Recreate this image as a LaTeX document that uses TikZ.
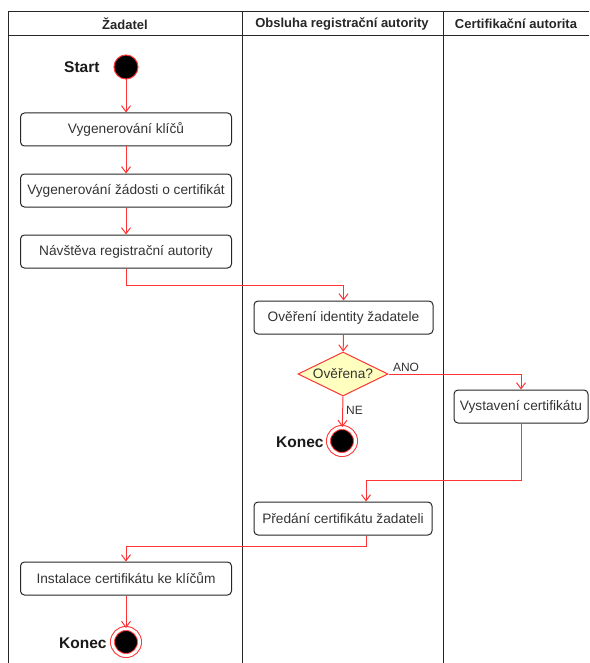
\documentclass[tikz,border=0pt]{standalone}
\usepackage{fontspec}
\setmainfont{Liberation Sans}
\usetikzlibrary{arrows.meta, shapes.geometric}

\definecolor{flow}{HTML}{FF3333}
\definecolor{cond}{HTML}{FFFFC0}
\definecolor{txt}{HTML}{333333}

\tikzset{
	lane/.style={font=\bfseries\fontsize{13}{15}\selectfont, text=black!85},
	action/.style={draw=black!85, rounded corners=4pt, minimum height=33pt, inner sep=0pt, text=txt, font=\fontsize{13.7}{15}\selectfont},
	decision/.style={diamond, draw=flow, fill=cond, aspect=2, minimum width=90pt, minimum height=44pt, inner sep=0pt, text=txt, font=\fontsize{13.7}{15}\selectfont},
	start/.style={circle, draw=flow, fill=black, minimum size=24pt, inner sep=0pt},
	stop/.style={circle, draw=flow, fill=black, double=white, double distance=3pt, minimum size=27pt, inner sep=0pt},
	tag/.style={font=\bfseries\fontsize{15.5}{17}\selectfont, text=black!90, inner sep=0pt},
	guard/.style={font=\fontsize{12}{14}\selectfont, text=txt, inner sep=1pt}
}

\begin{document}
\begin{tikzpicture}[x=1pt, y=-1pt, line width=1pt]
		\useasboundingbox (0,0) rectangle (589,663);
		
		\begin{scope}
		\clip (0,0) rectangle (589,663);
		\draw[black!85] (8,12) rectangle (600,36);
		\draw[black!85] (8,12) -- (8,670);
		\draw[black!85] (242,12) -- (242,670);
		\draw[black!85] (443,12) -- (443,670);
		\end{scope}
		
		\node[lane] (h1) at (125,24) {Žadatel};
		\node[lane] (h2) at (342,24) {Obsluha registrační autority};
		\node[lane] (h3) at (516,24) {Certifikační autorita};
		
		\node[start] (s) at (126,67) {};
		\node[tag, anchor=east] (ls) at (100,67) {Start};
		
		\node[action, minimum width=211pt] (b1) at (126,129.5) {Vygenerování klíčů};
		\node[action, minimum width=211pt] (b2) at (126,190.5) {Vygenerování žádosti o certifikát};
		\node[action, minimum width=211pt] (b3) at (126,251.5) {Návštěva registrační autority};
		\node[action, minimum width=179pt] (b4) at (343.5,317.5) {Ověření identity žadatele};
		\node[decision] (d) at (343,374) {Ověřena?};
		\node[stop] (e1) at (342,441) {};
		\node[tag, anchor=east] (le1) at (324,442) {Konec};
		\node[action, minimum width=134pt] (b5) at (521,406.5) {Vystavení certifikátu};
		\node[action, minimum width=178pt] (b6) at (343,518.5) {Předání certifikátu žadateli};
		\node[action, minimum width=211pt] (b7) at (126,578.5) {Instalace certifikátu ke klíčům};
		\node[stop] (e2) at (126,642) {};
		\node[tag, anchor=east] (le2) at (107,643) {Konec};
		
		\begin{scope}[draw=flow, -{Straight Barb[length=6pt, width=9pt]}]
		\draw (s) -- (b1);
		\draw (b1) -- (b2);
		\draw (b2) -- (b3);
		\draw (b3.south) -- ++(0,17) -| (b4.north);
		\draw (b4) -- (d);
		\draw (d.east) -| (b5.north) node[guard, pos=0, anchor=south west, xshift=3pt, yshift=1pt] {ANO};
		\draw (d.south) -- (e1) node[guard, pos=0.45, anchor=west, xshift=2pt] {NE};
		\draw (b5.south) -- ++(0,57) -| ([xshift=23pt]b6.north);
		\draw ([xshift=23pt]b6.south) -- ++(0,11) -| (b7.north);
		\draw (b7) -- (e2);
		\end{scope}
	\end{tikzpicture}
\end{document}
